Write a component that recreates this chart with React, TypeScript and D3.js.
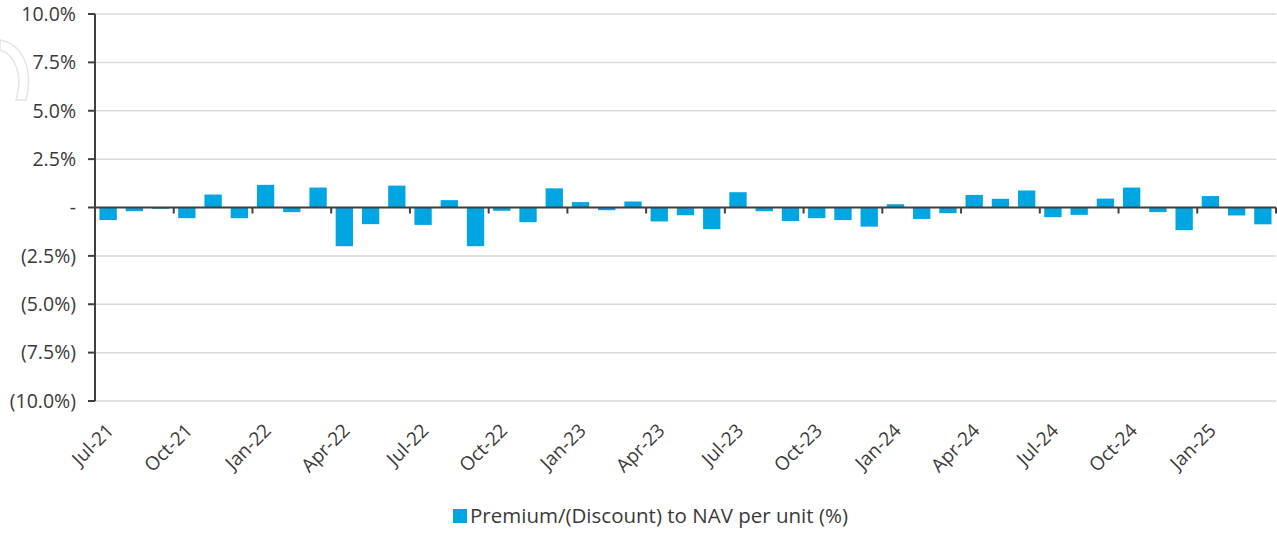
import React from "react";
import * as d3 from "d3";

const months: string[] = [
  "Jul-21","Aug-21","Sep-21","Oct-21","Nov-21","Dec-21",
  "Jan-22","Feb-22","Mar-22","Apr-22","May-22","Jun-22","Jul-22","Aug-22","Sep-22","Oct-22","Nov-22","Dec-22",
  "Jan-23","Feb-23","Mar-23","Apr-23","May-23","Jun-23","Jul-23","Aug-23","Sep-23","Oct-23","Nov-23","Dec-23",
  "Jan-24","Feb-24","Mar-24","Apr-24","May-24","Jun-24","Jul-24","Aug-24","Sep-24","Oct-24","Nov-24","Dec-24",
  "Jan-25","Feb-25","Mar-25",
];

const premiumDiscount: number[] = [
  -0.65, -0.19, -0.07, -0.55, 0.67, -0.55, 1.17, -0.24, 1.03, -2.0,
  -0.86, 1.13, -0.9, 0.38, -2.0, -0.17, -0.76, 0.99, 0.28, -0.14,
  0.31, -0.72, -0.4, -1.12, 0.79, -0.19, -0.7, -0.55, -0.65, -0.99,
  0.17, -0.59, -0.29, 0.65, 0.45, 0.88, -0.5, -0.38, 0.46, 1.03,
  -0.24, -1.17, 0.59, -0.41, -0.87,
];

const yTicks: number[] = [10, 7.5, 5, 2.5, 0, -2.5, -5, -7.5, -10];
const seriesName = "Premium/(Discount) to NAV per unit (%)";

const fmtY = (v: number) => {
  if (v === 0) return "-";
  const s = Math.abs(v).toFixed(1) + "%";
  return v < 0 ? `(${s})` : s;
};

export default function App() {
  const W = 1277, H = 534;
  const left = 95, right = 1276, top = 14, bottom = 401;
  const x = d3.scaleBand<string>().domain(months).range([left, right]).paddingInner(0.34).paddingOuter(0.17);
  const xb = d3.scaleBand<string>().domain(months).range([left, right]);
  const y = d3.scaleLinear().domain([-10, 10]).range([bottom, top]);
  const step = xb.step();
  const font = "'Open Sans', sans-serif";
  const textColor = "#3a3a3a";

  const tickIdx = d3.range(0, months.length + 1, 3);

  return (
    <svg width={W} height={H} style={{ position: "absolute", left: 0, top: 0, background: "#fff" }}>
      {/* faint watermark */}
      <path d="M 0 40 C 22 44, 34 68, 26 100 L 16 100 C 24 74, 14 54, 0 50 Z" fill="none" stroke="#e4e4e4" strokeWidth={1.5} />
      {/* gridlines */}
      {yTicks.filter((t) => t !== 0).map((t) => (
        <line key={"g" + t} x1={left} x2={right} y1={y(t)} y2={y(t)} stroke="#d9d9d9" strokeWidth={1.5} />
      ))}
      {/* bars */}
      {premiumDiscount.map((v, i) => (
        <rect
          key={"b" + i}
          x={x(months[i])!}
          width={x.bandwidth()}
          y={Math.min(y(v), y(0))}
          height={Math.abs(y(v) - y(0))}
          fill="#00A6E1"
        />
      ))}
      {/* zero line */}
      <line x1={left} x2={right} y1={y(0)} y2={y(0)} stroke="#404040" strokeWidth={2} />
      {/* x ticks */}
      {tickIdx.map((k) => (
        <line key={"xt" + k} x1={left + k * step} x2={left + k * step} y1={y(0)} y2={y(0) + 6} stroke="#404040" strokeWidth={2} />
      ))}
      {/* y axis */}
      <line x1={left} x2={left} y1={top} y2={bottom} stroke="#404040" strokeWidth={2} />
      {yTicks.map((t) => (
        <g key={"yt" + t}>
          <line x1={left - 7} x2={left} y1={y(t)} y2={y(t)} stroke="#404040" strokeWidth={2} />
          <text x={76} y={y(t)} dy="0.35em" textAnchor="end" fontFamily={font} fontSize={19.5} fill={textColor}>
            {fmtY(t)}
          </text>
        </g>
      ))}
      {/* x labels */}
      {months.map((m, i) =>
        i % 3 === 0 ? (
          <text
            key={"xl" + i}
            transform={`translate(${xb(m)! + step / 2 + 2},${bottom + 26}) rotate(-45)`}
            textAnchor="end"
            dy="0.35em"
            fontFamily={font}
            fontSize={19}
            fill={textColor}
          >
            {m}
          </text>
        ) : null
      )}
      {/* legend */}
      <rect x={453} y={509} width={14} height={14} fill="#00A6E1" />
      <text x={470} y={523} fontFamily={font} fontSize={20.5} fill={textColor}>
        {seriesName}
      </text>
    </svg>
  );
}
